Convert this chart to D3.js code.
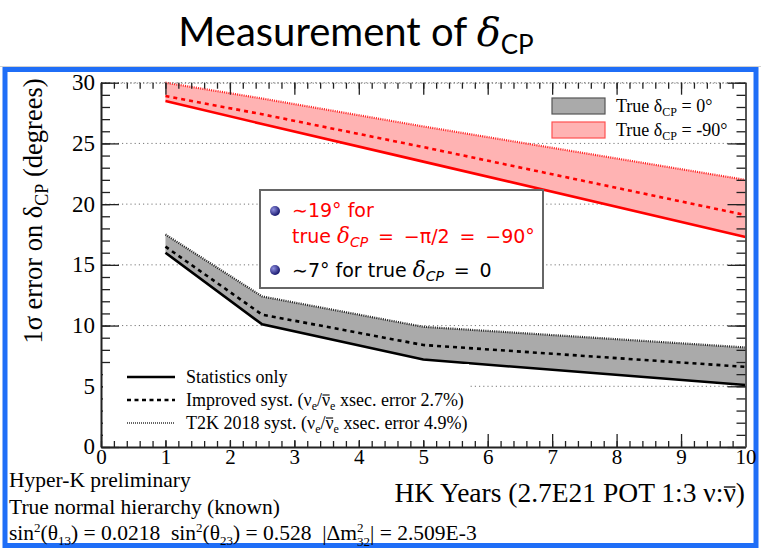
<!DOCTYPE html>
<html><head><meta charset="utf-8">
<script src="https://cdn.jsdelivr.net/npm/d3@7"></script>
<style>
html,body{margin:0;padding:0;background:#fff;}
svg{display:block;}
.serif{font-family:"Liberation Serif","Times New Roman",serif;}
text{white-space:pre;}
</style></head>
<body>
<svg id="c" width="761" height="549"></svg>
<script>
// ---- data ----
const years = [1, 2.5, 5, 10];
const statOnly0 = [16.0, 10.1, 7.2, 5.1];
const improved0 = [16.5, 10.9, 8.4, 6.6];
const t2k0 = [17.5, 12.4, 9.9, 8.2];
const statOnly90 = [28.5, 26.6, 23.5, 17.3];
const improved90 = [28.9, 27.4, 24.7, 19.1];
const t2k90 = [30.0, 28.7, 26.4, 22.0];
const xTicks = [0,1,2,3,4,5,6,7,8,9,10];
const yTicks = [0,5,10,15,20,25,30];

const svg = d3.select("#c");
const x = d3.scaleLinear().domain([0,10]).range([101,745.5]);
const y = d3.scaleLinear().domain([0,30]).range([447,82.7]);

// helper: draw an overline above a character of a text element
function overline(textSel, charIdx, offset, width){
  const node = textSel.node();
  const ext = node.getExtentOfChar(charIdx);
  const base = node.getStartPositionOfChar(charIdx).y;
  svg.append("line").attr("x1",ext.x+0.5).attr("x2",ext.x+ext.width-0.5)
    .attr("y1",base-offset).attr("y2",base-offset).attr("stroke","#000").attr("stroke-width",width);
}

// title
const title = svg.append("text").attr("x",356).attr("y",46).attr("text-anchor","middle")
  .style("font-family","Lato, 'Open Sans', sans-serif").style("font-size","40px").attr("fill","#000");
title.append("tspan").text("Measurement of ");
title.append("tspan").text("δ").style("font-family","'DejaVu Serif', serif").style("font-style","italic");
title.append("tspan").text("CP").attr("dy",8).style("font-size","26px");

// blue frame
svg.append("line").attr("x1",0).attr("x2",761).attr("y1",66.5).attr("y2",66.5).attr("stroke","#d0d0d0").attr("stroke-width",1);
svg.append("rect").attr("x",5).attr("y",69.5).attr("width",751).attr("height",476).attr("fill","none")
  .attr("stroke","#1f6ef7").attr("stroke-width",5);

// grid (dotted)
svg.append("g").selectAll("line").data(yTicks.filter(d=>d>0)).join("line")
  .attr("x1",x(0)).attr("x2",x(10)).attr("y1",d=>y(d)).attr("y2",d=>y(d))
  .attr("stroke","#777").attr("stroke-width",1).attr("stroke-dasharray","1.2,3");

// bands
const bandArea = (lo,hi)=>d3.area().x((d,i)=>x(years[i])).y0((d,i)=>y(lo[i])).y1((d,i)=>y(hi[i]));
svg.append("path").datum(years).attr("d",bandArea(statOnly90,t2k90)).attr("fill","#ffb3b3");
svg.append("path").datum(years).attr("d",bandArea(statOnly0,t2k0)).attr("fill","#aaaaaa");

const lineGen = vals=>d3.line().x((d,i)=>x(years[i])).y((d,i)=>y(vals[i]))(years);
function drawLine(vals,color,style){
  const p = svg.append("path").attr("d",lineGen(vals)).attr("fill","none").attr("stroke",color);
  if(style==="solid") p.attr("stroke-width",2.6);
  if(style==="dash") p.attr("stroke-width",2.6).attr("stroke-dasharray","4,4");
  if(style==="dot") p.attr("stroke-width",2.2).attr("stroke-dasharray","1,1.2");
}
drawLine(t2k90,"#ff2020","dot");
drawLine(improved90,"#ff0000","dash");
drawLine(statOnly90,"#ff0000","solid");
drawLine(t2k0,"#222","dot");
drawLine(improved0,"#000","dash");
drawLine(statOnly0,"#000","solid");

// axes
const minorX = d3.range(0,10.001,0.2).map(v=>+v.toFixed(1));
const minorY = d3.range(0,30.001,1);
const axStyle = g=>{g.selectAll("path,line").attr("stroke","#222").attr("stroke-width",1.3);
  g.selectAll("text").attr("class","serif").style("font-size","21px").attr("fill","#000");};

svg.append("g").attr("transform",`translate(0,${y(0)})`)
  .call(d3.axisBottom(x).tickValues(minorX).tickSize(-6).tickSizeOuter(0).tickFormat(""))
  .call(axStyle).call(g=>g.select(".domain").attr("stroke-width",2));
svg.append("g").attr("transform",`translate(0,${y(0)})`)
  .call(d3.axisBottom(x).tickValues(xTicks).tickSize(-13).tickSizeOuter(0).tickPadding(2).tickFormat(d3.format("d")))
  .call(axStyle).call(g=>g.select(".domain").remove());
svg.append("g").attr("transform",`translate(0,${y(30)})`)
  .call(d3.axisTop(x).tickValues(minorX).tickSize(-6).tickSizeOuter(0).tickFormat(""))
  .call(axStyle).call(g=>g.select(".domain").attr("stroke","#777").attr("stroke-dasharray","1.2,2").attr("stroke-width",1));
svg.append("g").attr("transform",`translate(0,${y(30)})`)
  .call(d3.axisTop(x).tickValues(xTicks).tickSize(-12).tickSizeOuter(0).tickFormat(""))
  .call(axStyle).call(g=>g.select(".domain").remove());

svg.append("g").attr("transform",`translate(${x(0)},0)`)
  .call(d3.axisLeft(y).tickValues(minorY).tickSize(-9).tickSizeOuter(0).tickFormat(""))
  .call(axStyle).call(g=>g.select(".domain").attr("stroke-width",2));
svg.append("g").attr("transform",`translate(${x(0)},0)`)
  .call(d3.axisLeft(y).tickValues(yTicks).tickSize(-18).tickSizeOuter(0).tickPadding(6).tickFormat(d3.format("d")))
  .call(axStyle).call(g=>g.select(".domain").remove())
  .call(g=>g.selectAll("text").attr("dy","0.3em").style("font-size","23px"));
svg.append("g").attr("transform",`translate(${x(10)},0)`)
  .call(d3.axisRight(y).tickValues(minorY).tickSize(-9).tickSizeOuter(0).tickFormat(""))
  .call(axStyle).call(g=>g.select(".domain").attr("stroke","#555").attr("stroke-width",2));
svg.append("g").attr("transform",`translate(${x(10)},0)`)
  .call(d3.axisRight(y).tickValues(yTicks).tickSize(-18).tickSizeOuter(0).tickFormat(""))
  .call(axStyle).call(g=>g.select(".domain").remove());

// y-axis title
const yt = svg.append("text").attr("class","serif").attr("transform","translate(42,211) rotate(-90)")
  .attr("text-anchor","middle").style("font-size","26.5px");
yt.append("tspan").text("1σ error on δ");
yt.append("tspan").text("CP").attr("dy",6).style("font-size","18px");
yt.append("tspan").text(" (degrees)").attr("dy",-6);

// x-axis title
const xtLabel = "HK Years (2.7E21 POT 1:3 ν:ν)";
const xt = svg.append("text").attr("class","serif").attr("x",745).attr("y",502).attr("text-anchor","end")
  .style("font-size","27.5px").text(xtLabel);
overline(xt, xtLabel.lastIndexOf("ν"), 15, 1.3);

// bottom-left notes
const notes = ["Hyper-K preliminary","True normal hierarchy (known)"];
svg.append("g").selectAll("text").data(notes).join("text").attr("class","serif")
  .attr("x",9).attr("y",(d,i)=>487+i*26.5).style("font-size","21.5px").text(d=>d);
const n3 = svg.append("text").attr("class","serif").attr("x",9).attr("y",540).style("font-size","21.5px");
n3.append("tspan").text("sin");
n3.append("tspan").text("2").attr("dy",-8.5).style("font-size","13px");
n3.append("tspan").text("(θ").attr("dy",8.5);
n3.append("tspan").text("13").attr("dy",5).style("font-size","13px");
n3.append("tspan").text(") = 0.0218  sin").attr("dy",-5);
n3.append("tspan").text("2").attr("dy",-8.5).style("font-size","13px");
n3.append("tspan").text("(θ").attr("dy",8.5);
n3.append("tspan").text("23").attr("dy",5).style("font-size","13px");
n3.append("tspan").text(") = 0.528  |Δm").attr("dy",-5);
n3.append("tspan").text("2").attr("dy",-8.5).style("font-size","13px");
n3.append("tspan").text("32").attr("dx",-6.5).attr("dy",14.5).style("font-size","13px");
n3.append("tspan").text("| = 2.509E-3").attr("dy",-6);

// bottom-left legend
svg.append("rect").attr("x",103).attr("y",364).attr("width",366).attr("height",76).attr("fill","#fff");
const legRows = [
  {label:"Statistics only", style:"solid"},
  {label:"Improved syst. (ν|e|/~ν|e| xsec. error 2.7%)", style:"dash"},
  {label:"T2K 2018 syst. (ν|e|/~ν|e| xsec. error 4.9%)", style:"dot"}];
legRows.forEach((r,i)=>{
  const yy = 377 + i*23;
  const l = svg.append("line").attr("x1",127).attr("x2",175).attr("y1",yy).attr("y2",yy).attr("stroke","#000");
  if(r.style==="solid") l.attr("stroke-width",2.6);
  if(r.style==="dash") l.attr("stroke-width",2.6).attr("stroke-dasharray","4,3.5");
  if(r.style==="dot") l.attr("stroke","#333").attr("stroke-width",1.6).attr("stroke-dasharray","1,1");
  const t = svg.append("text").attr("class","serif").attr("x",186).attr("y",yy+6).style("font-size","18px");
  const parts = r.label.split("|");
  let plain = "";
  let barIdx = -1;
  parts.forEach((p,j)=>{
    if(j%2===1){ t.append("tspan").text(p).attr("dy",4).style("font-size","12px"); plain += p; }
    else {
      const dy = j>0?-4:0;
      const k = p.indexOf("~");
      const txt = k>=0 ? p.slice(0,k)+p.slice(k+1) : p;
      if(k>=0) barIdx = plain.length + k;
      t.append("tspan").text(txt).attr("dy",dy);
      plain += txt;
    }
  });
  if(barIdx>=0) overline(t, barIdx, 11, 1.1);
});

// top-right legend
const tl = [{fill:"#aaaaaa", stroke:"#555", val:"0°"},{fill:"#ffb3b3", stroke:"#ff5050", val:"-90°"}];
tl.forEach((d,i)=>{
  const yy = 98 + i*24;
  svg.append("rect").attr("x",552).attr("y",yy).attr("width",53).attr("height",16)
    .attr("fill",d.fill).attr("stroke",d.stroke).attr("stroke-width",1.2);
  const t = svg.append("text").attr("class","serif").attr("x",616).attr("y",yy+14).style("font-size","18px");
  t.append("tspan").text("True δ");
  t.append("tspan").text("CP").attr("dy",4).style("font-size","12px");
  t.append("tspan").text(" = "+d.val).attr("dy",-4);
});

// annotation box
svg.append("rect").attr("x",260).attr("y",190).attr("width",283).attr("height",98)
  .attr("fill","#fff").attr("stroke","#666").attr("stroke-width",2);
const defs = svg.append("defs");
const rg = defs.append("radialGradient").attr("id","bul").attr("cx","35%").attr("cy","35%").attr("r","65%");
rg.append("stop").attr("offset","0%").attr("stop-color","#8f8fe0");
rg.append("stop").attr("offset","100%").attr("stop-color","#1a1a70");
[211,270].forEach(cy=>svg.append("circle").attr("cx",275).attr("cy",cy).attr("r",5).attr("fill","url(#bul)"));
const sans = "'DejaVu Sans', sans-serif";
function annLine(xx,yy,color,segs){
  const t = svg.append("text").attr("x",xx).attr("y",yy).attr("fill",color).style("font-family",sans).style("font-size","19px");
  segs.forEach(s=>{
    const ts = t.append("tspan").text(s.t);
    if(s.delta) ts.style("font-family","'DejaVu Serif', serif").style("font-style","italic").style("font-size","21.5px");
    if(s.sub) ts.attr("dy",4).style("font-style","italic").style("font-size","14px");
    if(s.up) ts.attr("dy",-4);
  });
}
annLine(292,217,"#ff0000",[{t:"∼19° for"}]);
annLine(292,243,"#ff0000",[{t:"true "},{t:"δ",delta:true},{t:"CP",sub:true},{t:" \u2009=\u2009 −π/2 \u2009=\u2009 −90°",up:true}]);
annLine(292,277,"#000",[{t:"∼7° for true "},{t:"δ",delta:true},{t:"CP",sub:true},{t:" \u2009=\u2009 0",up:true}]);
</script>
</body></html>
